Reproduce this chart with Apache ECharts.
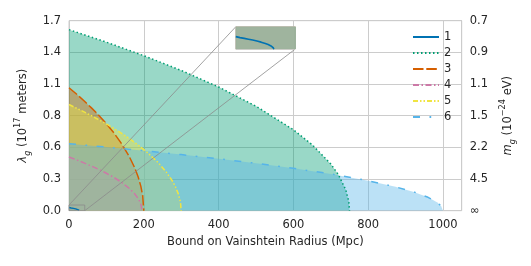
<!DOCTYPE html>
<html><head><meta charset="utf-8">
<script src="https://cdn.jsdelivr.net/npm/echarts@6/dist/echarts.min.js"></script>
<style>html,body{margin:0;padding:0;background:#fff}#c{width:531px;height:266px}</style>
</head><body><div id="c"></div>
<script>
// ---- data ----
const seriesNames = ['1','2','3','4','5','6'];
const s1 = [[0,0.0286],[3,0.0264],[6,0.0247],[9,0.0229],[12,0.0209],[15,0.0187],[18,0.0162],[21,0.0132],[23,0.0108],[25,0.0076],[26,0.0054],[26.7,0.0030],[27,0]];
const s2 = [[0,1.62],[100,1.508],[200,1.387],[300,1.255],[400,1.107],[500,0.935],[600,0.724],[650,0.591],[700,0.418],[720,0.324],[740,0.187],[748,0.084],[750,0]];
const s3 = [[0,1.10],[20,1.044],[40,0.984],[60,0.920],[80,0.852],[100,0.778],[120,0.696],[140,0.602],[160,0.492],[175,0.389],[185,0.301],[192,0.220],[197,0.135],[200,0]];
const s4 = [[0,0.48],[20,0.455],[40,0.428],[60,0.399],[80,0.369],[100,0.335],[120,0.298],[140,0.255],[160,0.203],[175,0.154],[185,0.109],[190,0.077],[193,0.049],[195,0]];
const s5 = [[0,0.95],[30,0.901],[60,0.850],[90,0.795],[120,0.736],[150,0.672],[180,0.601],[210,0.520],[240,0.425],[260,0.347],[275,0.274],[285,0.212],[293,0.145],[298,0.078],[300,0]];
const s6 = [[0,0.60],[100,0.569],[200,0.537],[300,0.502],[400,0.465],[500,0.424],[600,0.379],[700,0.329],[800,0.268],[870,0.216],[920,0.170],[960,0.120],[985,0.073],[995,0.042],[1000,0]];
const xTicks = [0,200,400,600,800,1000];
const leftTickLabels = ['0.0','0.3','0.6','0.8','1.1','1.4','1.7'];
const rightTickLabels = ['∞','4.5','2.2','1.5','1.1','0.9','0.7'];
// zoom region (source) and inset placement, in data units of the main axes
const zoomX = [0, 42], zoomY = [0, 0.051];
const insetX = [446, 604], insetY = [1.444, 1.646];

// ---- layout / styling ----
const X_MAX = 1050, Y_MAX = 1.7, Y_STEP = Y_MAX/6;
const G = {left:69, top:20.7, width:392.7, height:190};
const colors = ['#0072B2','#009E73','#D55E00','#CC79A7','#F0E442','#56B4E9'];
const dashes = ['solid',[1.5,2.5],[10.5,2.8],[6,2.5,1.5,2.5],[5,2,1.5,2,1.5,2],[7,9.5,1.7,9.5]];
const allData = [s1,s2,s3,s4,s5,s6];
const txt = '#262626', FONT = 'DejaVu Sans', FS = 11.5;
const px = x => G.left + x/X_MAX*G.width;
const py = y => G.top + (1 - y/Y_MAX)*G.height;
const inset = {left:px(insetX[0]), top:py(insetY[1]), width:px(insetX[1])-px(insetX[0]), height:py(insetY[0])-py(insetY[1])};

const series = [];
// fills (under everything)
allData.forEach((d,i)=>{
  series.push({type:'line', data:d, xAxisIndex:0, yAxisIndex:0, symbol:'none', silent:true,
    lineStyle:{width:0}, areaStyle:{color:colors[i], opacity:0.4}, z:2+i});
});
// curves on top of the fills
allData.forEach((d,i)=>{
  series.push({name:seriesNames[i], type:'line', data:d, xAxisIndex:0, yAxisIndex:0, symbol:'none', silent:true,
    lineStyle:{color:colors[i], width:1.5, type:dashes[i]}, itemStyle:{color:colors[i]}, z:10+i});
});
// inset: fills of the larger regions plus curve 1
allData.forEach((d,i)=>{
  series.push({type:'line', data:d, xAxisIndex:1, yAxisIndex:2, symbol:'none', silent:true,
    lineStyle:{color:colors[i], width: i===0?1.6:0, type:dashes[i]},
    areaStyle: i===0? undefined : {color:colors[i], opacity:0.4}, z: i===0?30:20+i, clip:true});
});
const gray = '#8c8c8c';
series.push({type:'line', xAxisIndex:0, yAxisIndex:0, symbol:'none', silent:true, z:17,
  data:[[zoomX[0],zoomY[0]],[zoomX[1],zoomY[0]],[zoomX[1],zoomY[1]],[zoomX[0],zoomY[1]],[zoomX[0],zoomY[0]]],
  lineStyle:{color:gray,width:0.8}});
series.push({type:'line', xAxisIndex:0, yAxisIndex:0, symbol:'none', silent:true, z:17,
  data:[[zoomX[0],zoomY[1]],[insetX[0],insetY[1]]], lineStyle:{color:gray,width:0.8}});
series.push({type:'line', xAxisIndex:0, yAxisIndex:0, symbol:'none', silent:true, z:17,
  data:[[zoomX[1],zoomY[0]],[insetX[1],insetY[0]]], lineStyle:{color:gray,width:0.8}});

const rich = {
  it:{fontFamily:FONT,fontSize:FS,fontStyle:'italic',color:txt,lineHeight:18,verticalAlign:'middle'},
  n:{fontFamily:FONT,fontSize:FS,color:txt,lineHeight:18,verticalAlign:'middle'},
  sub:{fontFamily:FONT,fontSize:8.2,fontStyle:'italic',color:txt,lineHeight:18,verticalAlign:'bottom'},
  sup:{fontFamily:FONT,fontSize:8.2,color:txt,lineHeight:18,verticalAlign:'top'}
};

const option = {
  animation:false,
  backgroundColor:'#fff',
  textStyle:{fontFamily:FONT},
  grid:[
    {left:G.left, top:G.top, width:G.width, height:G.height, show:true, borderColor:'#cccccc', borderWidth:1, backgroundColor:'#fff'},
    {left:inset.left, top:inset.top, width:inset.width, height:inset.height, show:true, borderColor:'#c8c8c8', borderWidth:1, backgroundColor:'#fff', z:19}
  ],
  legend:{data:seriesNames, orient:'vertical', left:407, top:26, itemWidth:26, itemHeight:14, itemGap:4,
    textStyle:{fontFamily:FONT,fontSize:FS,color:txt,padding:[0,0,0,0]}, lineStyle:{width:2},
    itemStyle:{opacity:0}, selectedMode:false},
  xAxis:[
    {type:'value', gridIndex:0, min:0, max:X_MAX, interval:200,
      axisLine:{show:false}, axisTick:{show:false},
      splitLine:{lineStyle:{color:'#cccccc',width:1}},
      axisLabel:{fontFamily:FONT,fontSize:FS,color:txt,margin:8,showMaxLabel:false,
        formatter:v=> xTicks.indexOf(v)>=0 ? String(v) : ''},
      name:'Bound on Vainshtein Radius (Mpc)', nameLocation:'middle', nameGap:25,
      nameTextStyle:{fontFamily:FONT,fontSize:FS,color:txt}},
    {type:'value', gridIndex:1, min:zoomX[0], max:zoomX[1], show:false}
  ],
  yAxis:[
    {type:'value', gridIndex:0, min:0, max:Y_MAX, interval:Y_STEP, position:'left',
      axisLine:{show:false}, axisTick:{show:false},
      splitLine:{lineStyle:{color:'#cccccc',width:1}},
      axisLabel:{fontFamily:FONT,fontSize:FS,color:txt,margin:8,
        formatter:v=> leftTickLabels[Math.round(v/Y_STEP)] ?? ''},
      name:'{it|λ}{sub|g}{n| (10}{sup|17}{n| meters)}', nameLocation:'middle', nameGap:32, nameRotate:90,
      nameTextStyle:{rich:rich}},
    {type:'value', gridIndex:0, min:0, max:Y_MAX, interval:Y_STEP, position:'right',
      axisLine:{show:false}, axisTick:{show:false}, splitLine:{show:false},
      axisLabel:{fontFamily:FONT,fontSize:FS,color:txt,margin:8,
        formatter:v=> rightTickLabels[Math.round(v/Y_STEP)] ?? ''},
      name:'{it|m}{sub|g}{n| (10}{sup|−24}{n| eV)}', nameLocation:'middle', nameGap:32, nameRotate:90,
      nameTextStyle:{rich:rich}},
    {type:'value', gridIndex:1, min:zoomY[0], max:zoomY[1], show:false}
  ],
  series:series
};
const chart = echarts.init(document.getElementById('c'), null, {renderer:'canvas'});
chart.setOption(option);
</script></body></html>
